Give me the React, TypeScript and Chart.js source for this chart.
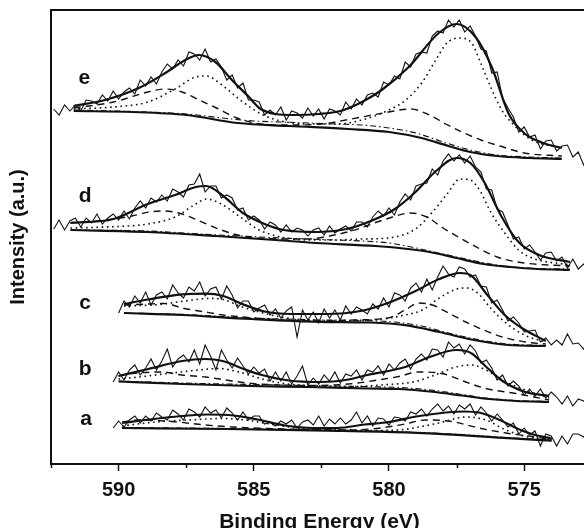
import React, { useEffect, useRef } from "react";
import { Chart, registerables } from "chart.js";

Chart.register(...registerables);

const FONT = "'Liberation Sans', Arial, Helvetica, sans-serif";
const INK = "#111111";

// ---------- x axis (binding energy, eV) ----------
const X_MIN = 572.64;
const X_MAX = 592.5;
const X_STEP = 2.5;
const Y_MIN = 0;
const Y_MAX = 454;

// ---------- raw spectra (0.2 eV steps) ----------
const RAW_STEP = 0.2;
const eRawStart = 592.4;
const dRawStart = 592.4;
const cRawStart = 590.0;
const bRawStart = 590.2;
const aRawStart = 590.2;

const eRaw = [355, 349, 359, 353, 359, 353, 364, 363, 360, 369, 363, 373, 365, 372, 376, 370, 384, 378, 387, 380,
  392, 400, 395, 404, 398, 412, 410, 404, 415, 402, 405, 397, 384, 389, 376, 381, 364, 364, 362, 349,
  354, 349, 357, 344, 353, 351, 346, 356, 348, 355, 345, 355, 353, 349, 362, 355, 365, 359, 369, 371,
  367, 382, 379, 388, 385, 402, 397, 410, 412, 411, 428, 433, 431, 444, 437, 444, 432, 438, 428, 415,
  413, 391, 392, 366, 356, 347, 332, 337, 327, 329, 315, 323, 324, 313, 318, 319, 307, 312, 299, 308, 305];

const dRaw = [235, 244, 234, 243, 246, 237, 246, 241, 250, 240, 246, 250, 244, 253, 245, 256, 263, 256, 266, 262,
  269, 263, 275, 272, 267, 279, 280, 290, 272, 278, 278, 266, 269, 266, 254, 256, 244, 248, 244, 235,
  242, 239, 232, 239, 232, 236, 234, 228, 234, 236, 229, 238, 231, 235, 238, 233, 242, 242, 237, 247,
  253, 248, 256, 249, 262, 270, 264, 278, 280, 281, 295, 289, 303, 310, 303, 309, 301, 308, 297, 292,
  275, 274, 255, 252, 239, 225, 227, 215, 219, 212, 204, 211, 212, 203, 207, 196, 205, 195, 200, 194, 197];

const cRaw = [151, 163, 157, 168, 161, 172, 159, 169, 172, 165, 179, 171, 166, 177, 173, 182, 168, 175, 177, 165,
  178, 169, 156, 163, 163, 152, 156, 159, 149, 155, 146, 153, 157, 127, 154, 144, 152, 141, 155, 146,
  154, 144, 158, 150, 157, 154, 150, 160, 155, 166, 157, 171, 169, 163, 176, 181, 172, 185, 174, 187,
  198, 190, 187, 197, 195, 187, 189, 178, 177, 161, 164, 154, 143, 147, 141, 132, 133, 134, 122, 126,
  119, 124, 119, 130, 120, 121, 115, 126, 116];

const bRaw = [82, 92, 84, 94, 99, 89, 96, 105, 94, 103, 115, 97, 105, 109, 102, 114, 100, 119, 108, 94,
  114, 104, 96, 106, 98, 90, 97, 91, 95, 83, 92, 83, 92, 80, 88, 98, 79, 86, 80, 89,
  83, 92, 81, 90, 88, 94, 84, 94, 92, 98, 89, 100, 94, 101, 105, 95, 105, 110, 104, 115,
  114, 107, 122, 116, 120, 110, 119, 113, 101, 104, 96, 84, 89, 78, 83, 78, 69, 75, 68, 75,
  66, 72, 67, 60, 68, 58, 65, 63, 59, 68];

const aRaw = [36, 43, 37, 44, 48, 41, 48, 43, 51, 47, 44, 54, 50, 44, 55, 52, 47, 57, 51, 54,
  46, 56, 51, 44, 52, 44, 48, 48, 40, 42, 38, 43, 40, 44, 36, 42, 44, 39, 48, 38,
  45, 40, 46, 40, 44, 52, 41, 48, 38, 46, 45, 39, 47, 46, 43, 52, 50, 55, 48, 55,
  60, 53, 58, 50, 59, 55, 60, 49, 57, 51, 43, 50, 44, 37, 41, 30, 36, 29, 33, 18,
  30, 28, 18, 28, 20, 30, 30, 27, 35, 35];

// ---------- fitted curves: [binding energy, intensity] ----------
const eEnvelope = [[591.66, 358], [590.5, 364], [589.25, 376], [588.27, 391], [587.53, 404], [587.03, 409], [586.42, 402], [585.81, 384], [585.18, 367], [584.8, 356], [584.2, 350], [583.5, 349], [582.6, 350], [581.8, 353], [581.0, 362], [580.27, 374], [579.27, 397], [578.16, 431], [577.5, 440], [576.8, 427], [576.2, 397], [575.57, 350], [574.96, 330], [574.3, 321], [573.61, 316]];
const eBackground = [[591.66, 353], [589.5, 352], [587.5, 349], [585.6, 341], [583.7, 338], [581.5, 335], [580.0, 332], [578.8, 326], [577.8, 318], [577.0, 312], [576.0, 308], [574.8, 306], [573.61, 305]];
const eDotted = [[591.66, 355], [590.19, 357], [588.92, 362], [587.91, 375], [587.15, 387], [586.76, 388], [586.13, 378], [585.5, 364], [584.73, 350], [584.0, 343], [583.0, 340], [582.0, 340], [581.0, 344], [580.0, 354], [579.38, 364], [578.79, 381], [578.27, 404], [577.86, 421], [577.4, 426], [576.94, 421], [576.61, 401], [576.24, 377], [575.83, 354], [575.31, 337], [574.72, 324], [573.61, 316]];
const eDashed = [[591.66, 356], [590.19, 362], [588.92, 372], [588.29, 375], [587.65, 372], [587.02, 364], [586.38, 356], [585.62, 346], [584.73, 340], [583.7, 339], [582.5, 340], [581.4, 345], [580.2, 351], [579.2, 355], [578.5, 349], [577.9, 340], [577.3, 332], [576.6, 324], [575.9, 318], [575.0, 311], [573.61, 308]];
const eDashDot = [[591.66, 354], [589.5, 352.5], [587.5, 350], [586.0, 345.5], [585.0, 343], [584.0, 342], [583.0, 341], [582.0, 340], [581.0, 339], [580.0, 336], [579.0, 331], [578.0, 322], [577.0, 314], [576.0, 309], [574.8, 307], [573.61, 306]];

const dEnvelope = [[591.78, 241], [590.19, 245], [588.92, 260], [587.91, 269], [587.15, 277], [586.76, 278], [586.13, 268], [585.4, 251], [584.6, 240], [583.9, 234], [582.58, 232], [581.56, 235], [580.67, 243], [579.78, 255], [579.02, 272], [578.26, 293], [577.5, 306], [576.99, 301], [576.48, 282], [575.85, 248], [575.21, 222], [574.45, 209], [573.31, 202]];
const dBackground = [[591.78, 234], [588.92, 232], [586.4, 228], [584.2, 224], [582.7, 221], [580.5, 218], [579.3, 215], [578.5, 212], [577.5, 206], [576.5, 200], [575.5, 197], [574.5, 195], [573.31, 194]];
const dDotted = [[591.78, 236], [590.5, 237], [588.92, 240], [587.91, 247], [587.15, 260], [586.76, 265], [586.2, 260], [585.5, 247], [584.8, 234], [584.0, 227], [583.0, 224], [582.0, 224], [581.0, 225], [580.04, 226], [579.02, 235], [578.39, 252], [577.88, 269], [577.37, 285], [576.99, 284], [576.61, 272], [576.24, 252], [575.72, 231], [575.21, 214], [574.71, 206], [573.31, 199]];
const dDashed = [[591.78, 241], [590.5, 244], [589.5, 248], [588.85, 252], [588.3, 253], [587.65, 250], [587.0, 243], [586.3, 235], [585.6, 229], [584.9, 226], [584.0, 225], [583.0, 225], [582.2, 228], [581.4, 233], [580.1, 245], [579.2, 251], [578.6, 247], [578.0, 236], [577.5, 228], [576.7, 216], [576.0, 207], [575.0, 201], [573.31, 198]];
const dDashDot = [[591.78, 234], [588.9, 233], [587.0, 230], [585.5, 228], [584.0, 226], [583.0, 225], [582.0, 224], [581.0, 223], [580.0, 221], [579.0, 216], [578.0, 210], [577.0, 204], [576.0, 199], [575.0, 196], [573.31, 195]];

const cEnvelope = [[589.8, 160], [588.92, 164.5], [587.65, 169.7], [586.76, 170.4], [586.13, 168], [585.37, 159.4], [584.61, 152.5], [583.6, 150], [582.3, 150], [581.05, 153], [580.04, 161], [579.02, 173], [578.14, 185], [577.37, 191], [576.99, 189], [576.36, 169], [575.72, 149], [575.09, 136], [574.2, 123]];
const cBackground = [[589.8, 151], [587.65, 149], [585.1, 145], [582.6, 142.2], [580.67, 141.5], [579.4, 138.8], [578.14, 132], [576.86, 124], [575.6, 119], [574.2, 118]];
const cDotted = [[589.8, 158], [588.54, 159.4], [587.4, 163.5], [586.64, 165.6], [586.13, 164.5], [585.5, 157.7], [584.86, 152.5], [584.0, 147], [583.0, 144], [582.0, 143.5], [580.67, 144], [579.4, 149], [578.77, 154], [578.14, 166], [577.5, 175], [577.12, 176], [576.74, 171.4], [576.24, 156], [575.72, 142], [574.96, 128.5], [574.2, 122]];
const cDashed = [[589.8, 159], [588.9, 160], [588.3, 160.5], [587.65, 156], [586.9, 152.5], [586.13, 149], [585.1, 146.3], [584.0, 144], [582.6, 143], [581.3, 144], [580.04, 146], [579.4, 154], [578.9, 161], [578.4, 159], [577.8, 151], [577.16, 142], [576.5, 134], [575.8, 127], [574.96, 122], [574.2, 120]];
const cDashDot = [[589.8, 151], [587.5, 149.5], [585.5, 146.5], [584.0, 145], [582.5, 144], [581.0, 143.5], [579.8, 142], [578.8, 138], [577.8, 131], [576.8, 125], [575.6, 120], [574.2, 118.5]];

const bEnvelope = [[590.0, 88], [588.9, 95], [587.65, 103], [586.8, 105], [586.15, 103], [585.37, 95], [584.7, 89], [583.7, 83.5], [582.5, 82], [581.6, 84], [580.8, 89], [579.4, 97], [578.5, 107], [577.5, 114], [576.97, 111], [576.36, 96], [575.8, 83], [574.96, 72], [574.08, 68]];
const bBackground = [[590.0, 82.5], [587.65, 80], [585.1, 78], [583.0, 77], [580.8, 75.5], [579.6, 75], [578.3, 72], [577.3, 68.5], [576.3, 65], [575.3, 63], [574.08, 62]];
const bDotted = [[590.0, 85], [589.25, 87], [588.03, 91], [587.03, 94], [586.3, 95.5], [585.55, 92], [584.56, 84], [583.6, 79.5], [582.5, 78], [581.3, 77.5], [580.27, 79], [579.02, 82.5], [578.16, 90.5], [577.53, 97], [576.94, 99], [576.42, 94], [575.68, 82], [574.94, 74], [574.08, 66]];
const bDashed = [[590.0, 88], [589.5, 90.5], [588.4, 92], [587.66, 89], [586.78, 87], [586.04, 84], [585.07, 80.5], [584.0, 79], [582.8, 78.5], [581.5, 80], [580.4, 84], [579.64, 87.5], [578.9, 92], [578.05, 90.5], [577.16, 82], [576.42, 75.5], [575.31, 70.5], [574.08, 64]];
const bDashDot = [[590.0, 83], [587.65, 81], [585.1, 79.5], [583.0, 78.5], [581.0, 77.5], [579.6, 76.5], [578.3, 73.5], [577.3, 69.5], [576.3, 65.5], [575.3, 63.5], [574.08, 62.5]];

const aEnvelope = [[589.87, 41], [588.7, 45], [587.65, 48], [586.7, 49.5], [585.75, 48.5], [584.86, 44.5], [583.85, 38.5], [582.8, 36], [581.9, 36], [580.9, 39.5], [580.0, 42], [579.0, 47.5], [577.9, 51.5], [577.2, 52.5], [576.6, 51], [575.9, 44], [575.3, 36], [574.72, 30], [573.98, 25.5]];
const aBackground = [[589.87, 36], [586.0, 35], [582.3, 33.4], [579.4, 31.6], [577.5, 29.2], [575.6, 25.8], [573.98, 23.4]];
const aDotted = [[589.87, 38], [588.64, 42], [587.4, 44], [586.18, 45.5], [585.3, 44], [584.4, 40], [583.4, 36], [582.0, 34.5], [580.8, 33.5], [579.64, 34], [578.9, 37], [578.16, 41], [577.16, 47], [576.42, 44], [575.68, 34], [574.94, 27.5], [573.98, 24]];
const aDashed = [[589.87, 42], [589.25, 44], [588.03, 42.5], [586.78, 39], [585.81, 37], [584.5, 35.5], [583.0, 34.5], [581.5, 34], [580.3, 36], [579.4, 40], [578.64, 44], [577.68, 42.5], [576.68, 36], [575.68, 31], [574.72, 27.5], [573.98, 24.5]];
const aDashDot = [[589.87, 36.5], [586.0, 35.5], [583.0, 34.2], [580.5, 33], [579.0, 31.5], [577.5, 29.8], [575.6, 26.3], [573.98, 24]];

// ---------- sample labels (anchored in data units) ----------
const sampleNames = ["e", "d", "c", "b", "a"];
const sampleLabelE = [591.27, 591.24, 591.24, 591.24, 591.2];
const sampleLabelI = [386, 268, 161, 95, 45];

const xTitle = "Binding Energy (eV)";
const yTitle = "Intensity (a.u.)";

function rawPoints(start: number, values: number[]) {
  return values.map((v, i) => ({ x: Math.round((start - i * RAW_STEP) * 100) / 100, y: v }));
}
function curvePoints(pairs: number[][]) {
  return pairs.map(([x, y]) => ({ x, y }));
}

const spectra = [
  { raw: eRaw, start: eRawStart, env: eEnvelope, bg: eBackground, dot: eDotted, dash: eDashed, dd: eDashDot },
  { raw: dRaw, start: dRawStart, env: dEnvelope, bg: dBackground, dot: dDotted, dash: dDashed, dd: dDashDot },
  { raw: cRaw, start: cRawStart, env: cEnvelope, bg: cBackground, dot: cDotted, dash: cDashed, dd: cDashDot },
  { raw: bRaw, start: bRawStart, env: bEnvelope, bg: bBackground, dot: bDotted, dash: bDashed, dd: bDashDot },
  { raw: aRaw, start: aRawStart, env: aEnvelope, bg: aBackground, dot: aDotted, dash: aDashed, dd: aDashDot },
];

function isMajor(v: number) {
  return Math.abs(v / 5 - Math.round(v / 5)) < 1e-6;
}

const framePlugin = {
  id: "frame",
  afterDraw(chart: any) {
    const { ctx, chartArea, scales } = chart;
    ctx.save();
    ctx.strokeStyle = INK;
    ctx.lineWidth = 2;
    ctx.beginPath();
    ctx.moveTo(chartArea.left - 1, chartArea.top);
    ctx.lineTo(chartArea.right, chartArea.top);
    ctx.lineTo(chartArea.right, chartArea.bottom);
    ctx.stroke();
    // minor ticks
    const xs = scales.x;
    ctx.lineWidth = 1.5;
    xs.ticks.forEach((t: any) => {
      if (!isMajor(t.value)) {
        const px = Math.round(xs.getPixelForValue(t.value)) + 0.5;
        ctx.beginPath();
        ctx.moveTo(px, chartArea.bottom);
        ctx.lineTo(px, chartArea.bottom + 4);
        ctx.stroke();
      }
    });
    ctx.restore();
  },
};

const labelPlugin = {
  id: "sampleLabels",
  afterDatasetsDraw(chart: any) {
    const { ctx, scales } = chart;
    ctx.save();
    ctx.fillStyle = INK;
    ctx.font = `bold 21px ${FONT}`;
    ctx.textAlign = "center";
    ctx.textBaseline = "middle";
    sampleNames.forEach((n, i) => {
      ctx.fillText(n, scales.x.getPixelForValue(sampleLabelE[i]), scales.y.getPixelForValue(sampleLabelI[i]));
    });
    ctx.restore();
  },
};

export default function App() {
  const ref = useRef<HTMLCanvasElement | null>(null);

  useEffect(() => {
    const canvas = ref.current;
    if (!canvas) return;
    const datasets: any[] = [];
    spectra.forEach((s) => {
      const base = { pointRadius: 0, fill: false, borderColor: INK };
      datasets.push({ ...base, data: curvePoints(s.env), borderWidth: 2.2, cubicInterpolationMode: "monotone" });
      datasets.push({ ...base, data: curvePoints(s.bg), borderWidth: 2.2, cubicInterpolationMode: "monotone" });
      datasets.push({ ...base, data: curvePoints(s.dot), borderWidth: 1.6, borderDash: [1.6, 3.6], cubicInterpolationMode: "monotone" });
      datasets.push({ ...base, data: curvePoints(s.dash), borderWidth: 1.4, borderDash: [7, 5], cubicInterpolationMode: "monotone" });
      datasets.push({ ...base, data: curvePoints(s.dd), borderWidth: 1.1, borderDash: [6, 3, 1.5, 3], cubicInterpolationMode: "monotone" });
      datasets.push({ ...base, data: rawPoints(s.start, s.raw), borderWidth: 1.1, tension: 0 });
    });

    const chart = new Chart(canvas, {
      type: "line",
      data: { datasets },
      options: {
        responsive: false,
        animation: false,
        devicePixelRatio: 1,
        layout: { padding: { top: 10, right: 0, bottom: 0, left: 0 } },
        plugins: { legend: { display: false }, tooltip: { enabled: false } },
        scales: {
          x: {
            type: "linear",
            reverse: true,
            min: X_MIN,
            max: X_MAX,
            afterFit: (s: any) => { s.height = 81; },
            ticks: {
              stepSize: X_STEP,
              includeBounds: false,
              autoSkip: false,
              maxRotation: 0,
              padding: 7,
              color: INK,
              font: { family: FONT, size: 20, weight: "bold" },
              callback: (v: any) => (isMajor(Number(v)) ? String(Math.round(Number(v))) : ""),
            },
            grid: {
              display: true,
              drawOnChartArea: false,
              drawTicks: true,
              tickLength: 7,
              tickWidth: 1.5,
              tickColor: (c: any) => (c.tick && !isMajor(c.tick.value) ? "rgba(0,0,0,0)" : INK),
            },
            border: { display: true, color: INK, width: 2 },
            title: {
              display: true,
              text: xTitle,
              color: INK,
              font: { family: FONT, size: 21, weight: "bold" },
              padding: { top: 0, bottom: 10 },
            },
          },
          y: {
            type: "linear",
            min: Y_MIN,
            max: Y_MAX,
            afterFit: (s: any) => { s.width = 51; },
            ticks: { display: false },
            grid: { display: false, drawTicks: false },
            border: { display: true, color: INK, width: 2 },
            title: {
              display: true,
              text: yTitle,
              color: INK,
              font: { family: FONT, size: 20, weight: "bold" },
              padding: { top: 6, bottom: 0 },
            },
          },
        },
      },
      plugins: [framePlugin, labelPlugin],
    } as any);

    return () => chart.destroy();
  }, []);

  return (
    <div style={{ position: "fixed", left: 0, top: 0, width: 584, height: 528, overflow: "hidden", background: "#fff" }}>
      <canvas ref={ref} width={588} height={545} style={{ display: "block" }} />
    </div>
  );
}
